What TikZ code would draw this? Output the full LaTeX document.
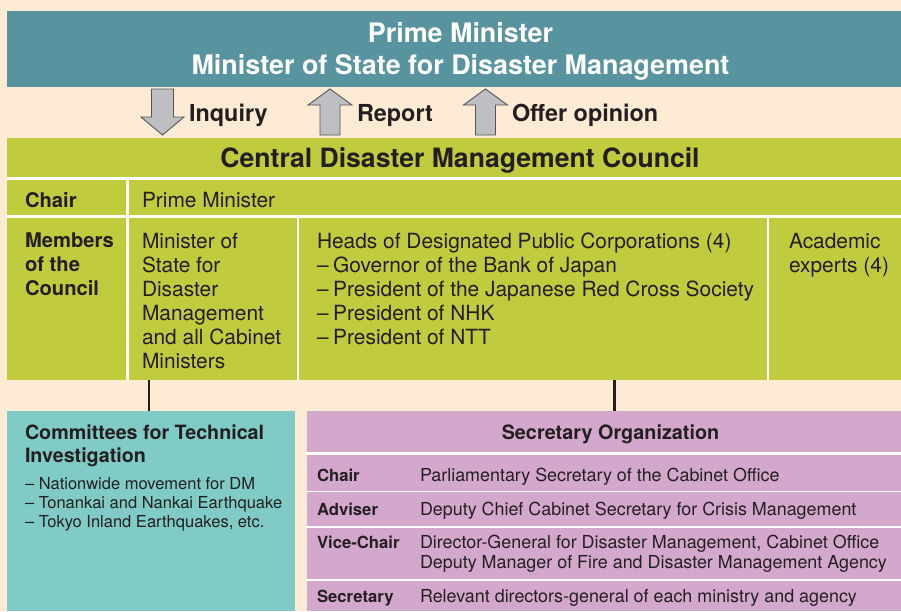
\documentclass[tikz,border=0pt]{standalone}
\usepackage{fontspec}
\setmainfont{TeX Gyre Heros}
\usetikzlibrary{positioning}

\definecolor{pagebg}{HTML}{FEEBD3}
\definecolor{headteal}{HTML}{5893A0}
\definecolor{councilgreen}{HTML}{C0CB3E}
\definecolor{techteal}{HTML}{80CBC6}
\definecolor{secpurple}{HTML}{D4A7CC}
\definecolor{arrowgray}{HTML}{BDBFC2}
\definecolor{arrowline}{HTML}{555557}
\definecolor{ink}{HTML}{231F20}

\newcommand\fTop{\fontsize{26.9}{32}\selectfont\bfseries}
\newcommand\fArrow{\fontsize{23.4}{28}\selectfont\bfseries}
\newcommand\fCouncil{\fontsize{26.6}{30}\selectfont\bfseries}
\newcommand\fCellB{\fontsize{20.2}{24}\selectfont\bfseries}
\newcommand\fCell{\fontsize{20.9}{24}\selectfont}
\newcommand\fTechB{\fontsize{19.7}{23}\selectfont\bfseries}
\newcommand\fTech{\fontsize{16.5}{19}\selectfont}
\newcommand\fSecHead{\fontsize{19.8}{24}\selectfont\bfseries}
\newcommand\fSecB{\fontsize{16.7}{20}\selectfont\bfseries}
\newcommand\fSec{\fontsize{17.9}{20}\selectfont}

\tikzset{panel/.style = {inner sep=0pt, outer sep=0pt, anchor=north west},
         cell/.style = {inner sep=0pt, outer sep=0pt, align=left, text=ink},
         whitegap/.style = {white, line width=2.5pt},
         link/.style = {ink, line width=2.2pt},
         blockarrow/.style = {fill=arrowgray, draw=arrowline, line width=0.9pt},
         uparrow/.pic = {\draw [blockarrow] (0, 0) -- (22, 16) -- (10, 16) -- (10, 46)
                           -- (-10, 46) -- (-10, 16) -- (-22, 16) -- cycle;},
         downarrow/.pic = {\draw [blockarrow] (0, 46) -- (21.5, 28) -- (11, 28) -- (11, 0)
                             -- (-11, 0) -- (-11, 28) -- (-21.5, 28) -- cycle;}}

\begin{document}
\begin{tikzpicture}[x=1pt, y=-1pt]
      \useasboundingbox (0, 0) rectangle (901, 611);
      \fill [pagebg] (0, 0) rectangle (901, 611);

      % top bar
      \node [panel, fill=headteal, minimum width=894, minimum height=76] (pmbar) at (7, 11) {};
      \node [cell, align=center, text=white, font=\fTop, anchor=north] (pm) at (460.5, 22.5)
            {Prime Minister\\Minister of State for Disaster Management};

      % inquiry / report / opinion
      \pic at (162.5, 89) {downarrow};
      \node [cell, font=\fArrow, anchor=base west] (inquiry) at (189, 121.7) {Inquiry};
      \pic at (330, 89) {uparrow};
      \node [cell, font=\fArrow, anchor=base west] (report) at (357, 121.7) {Report};
      \pic at (485.5, 89) {uparrow};
      \node [cell, font=\fArrow, anchor=base west] (opinion) at (512, 121.2) {Offer opinion};

      % council
      \node [panel, fill=councilgreen, minimum width=894, minimum height=242] (council) at (7, 138) {};
      \node [cell, font=\fCouncil, anchor=base] (counciltitle) at (460, 167) {Central Disaster Management Council};
      \draw [whitegap] (7, 178.7) -- (901, 178.7);
      \draw [whitegap, line width=3pt] (7, 216) -- (901, 216);
      \draw [whitegap, line width=3pt] (127.5, 180) -- (127.5, 380);
      \draw [whitegap, line width=2.6pt] (298, 216) -- (298, 380);
      \draw [whitegap, line width=2.6pt] (768, 216) -- (768, 380);

      \node [cell, font=\fCellB, anchor=base west] (chairlabel) at (25, 207) {Chair};
      \node [cell, font=\fCell, anchor=base west] (chair) at (142, 207) {Prime Minister};
      \node [cell, font=\fCellB, anchor=north west] (memberlabel) at (25, 233) {Members\\of the\\Council};
      \node [cell, font=\fCell, anchor=north west] (ministers) at (142, 233)
            {Minister of\\State for\\Disaster\\Management\\and all Cabinet\\Ministers};
      \node [cell, font=\fCell, anchor=north west] (corporations) at (317, 233)
            {Heads of Designated Public Corporations (4)\\
             --\hspace{0.22em}Governor of the Bank of Japan\\
             --\hspace{0.22em}President of the Japanese Red Cross Society\\
             --\hspace{0.22em}President of NHK\\
             --\hspace{0.22em}President of NTT};
      \node [cell, font=\fCell, anchor=north west] (experts) at (789, 233) {Academic\\experts (4)};

      % committees
      \node [panel, fill=techteal, minimum width=288, minimum height=200] (techcom) at (7, 411) {};
      \node [cell, font=\fTechB, anchor=north west] (techtitle) at (25, 425)
            {Committees for Technical\\Investigation};
      \node [cell, font=\fTech, anchor=north west] (techlist) at (25, 477)
            {-- Nationwide movement for DM\\
             -- Tonankai and Nankai Earthquake\\
             -- Tokyo Inland Earthquakes, etc.};

      % secretary organization
      \node [panel, fill=secpurple, minimum width=594, minimum height=200] (secorg) at (307, 411) {};
      \node [cell, font=\fSecHead, anchor=base] (sectitle) at (610.5, 439) {Secretary Organization};
      \draw [whitegap, line width=2.7pt] (307, 453.6) -- (901, 453.6);
      \draw [whitegap, line width=1.8pt] (307, 491.5) -- (901, 491.5);
      \draw [whitegap, line width=2pt] (307, 526.7) -- (901, 526.7);
      \draw [whitegap, line width=2pt] (307, 580) -- (901, 580);

      \node [cell, font=\fSecB, anchor=base west] (secchairlabel) at (317, 481.5) {Chair};
      \node [cell, font=\fSec, anchor=base west] (secchair) at (420, 481.5) {Parliamentary Secretary of the Cabinet Office};
      \node [cell, font=\fSecB, anchor=base west] (adviserlabel) at (317, 515.5) {Adviser};
      \node [cell, font=\fSec, anchor=base west] (adviser) at (420, 515.5) {Deputy Chief Cabinet Secretary for Crisis Management};
      \node [cell, font=\fSecB, anchor=base west] (vicelabel) at (317, 548.5) {Vice-Chair};
      \node [cell, font=\fSec, anchor=north west] (vicechair) at (420, 535.4)
            {Director-General for Disaster Management, Cabinet Office\\
             Deputy Manager of Fire and Disaster Management Agency};
      \node [cell, font=\fSecB, anchor=base west] (secretarylabel) at (317, 602.5) {Secretary};
      \node [cell, font=\fSec, anchor=base west] (secretary) at (420, 602.5) {Relevant directors-general of each ministry and agency};

      % links
      \coordinate (techlink) at (149, 0);
      \coordinate (seclink) at (614.5, 0);
      \draw [link] (council.south -| techlink) -- (techcom.north -| techlink);
      \draw [link] (council.south -| seclink) -- (secorg.north -| seclink);
    \end{tikzpicture}
\end{document}
